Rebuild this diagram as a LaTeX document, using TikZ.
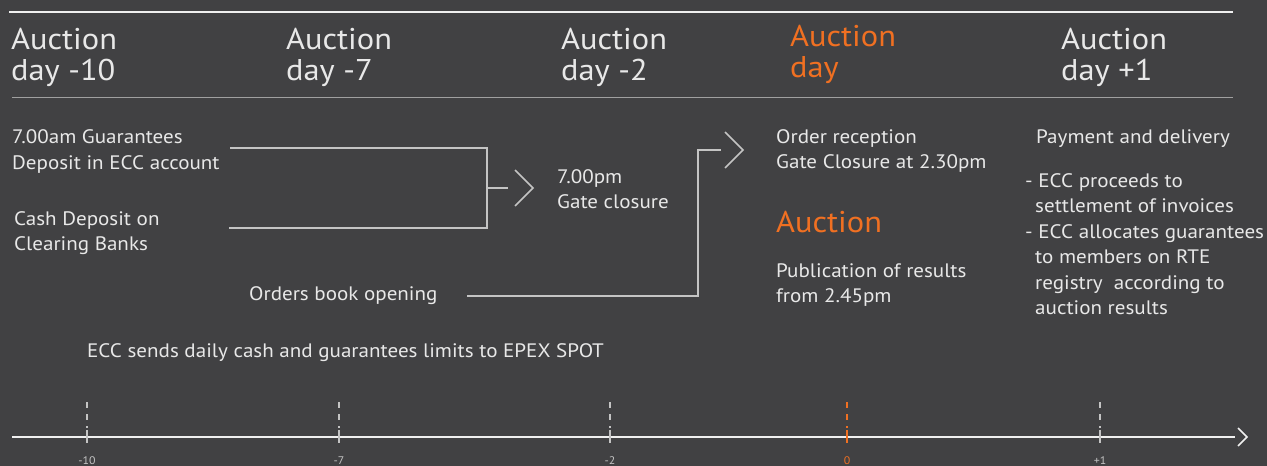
\documentclass[tikz,border=0pt]{standalone}
\usepackage{fontspec}
\setmainfont{PT Sans}[FakeStretch=1.08]
\definecolor{bg}{RGB}{65,65,67}
\definecolor{ink}{RGB}{232,232,232}
\definecolor{wire}{RGB}{196,196,196}
\definecolor{rule}{RGB}{160,160,160}
\definecolor{accent}{RGB}{240,112,34}
\definecolor{axislabel}{RGB}{168,168,168}
\tikzset{
  head/.style={anchor=base west, inner sep=0pt, text=ink, font=\fontsize{30}{34}\selectfont},
  body/.style={anchor=base west, inner sep=0pt, text=ink, font=\fontsize{19.5}{23}\selectfont},
  link/.style={draw=wire, line width=2pt},
  chev/.style={draw=wire, line width=1.6pt, line cap=butt, line join=miter},
  tickmark/.style={draw=wire, line width=1.6pt},
  tickdash/.style={draw=wire, line width=1.6pt, dash pattern=on 6pt off 6pt},
  ticklabel/.style={anchor=base, inner sep=0pt, text=axislabel, font=\fontsize{11}{13}\selectfont},
}
\begin{document}
\begin{tikzpicture}[x=1pt,y=-1pt]
  % canvas
  \fill[bg] (0,0) rectangle (1267,466);
  \useasboundingbox (0,0) rectangle (1267,466);
  \clip (0,0) rectangle (1267,466);

  % header rules
  \draw[white!92!bg, line width=2.2pt] (9,12) -- (1233,12);
  \draw[rule, line width=1pt] (12,97) -- (1233,97);

  % day headings
  \node[head] (h1a) at (11,49) {Auction};
  \node[head] (h1b) at (11,80) {day -10};
  \node[head] (h2a) at (286,49) {Auction};
  \node[head] (h2b) at (286,80) {day -7};
  \node[head] (h3a) at (561,49) {Auction};
  \node[head] (h3b) at (561,80) {day -2};
  \node[head, text=accent] (h4a) at (790,46) {Auction};
  \node[head, text=accent] (h4b) at (790,77) {day};
  \node[head] (h5a) at (1061,49) {Auction};
  \node[head] (h5b) at (1061,80) {day +1};

  % day -10 column
  \node[body] (g1) at (12,143) {7.00am Guarantees};
  \node[body] (g2) at (12,169) {Deposit in ECC account};
  \node[body] (c1) at (14,225) {Cash Deposit on};
  \node[body] (c2) at (14,250) {Clearing Banks};
  \node[body] (ob) at (249,300) {Orders book opening};

  % day -2 column
  \node[body] (p1) at (557,183) {7.00pm};
  \node[body] (p2) at (557,208) {Gate closure};

  % auction day column
  \node[body] (r1) at (776,143) {Order reception};
  \node[body] (r2) at (776,168) {Gate Closure at 2.30pm};
  \node[head, text=accent] (au) at (776,232) {Auction};
  \node[body] (u1) at (776,277) {Publication of results};
  \node[body] (u2) at (776,302) {from 2.45pm};

  % day +1 column
  \node[body] (d0) at (1036,143) {Payment and delivery};
  \node[body] (d1) at (1025,187) {- ECC proceeds to};
  \node[body] (d2) at (1035,212.5) {settlement of invoices};
  \node[body] (d3) at (1025,238) {- ECC allocates guarantees};
  \node[body] (d4) at (1035,263.5) {to members on RTE};
  \node[body] (d5) at (1035,289) {registry\ \ according to};
  \node[body] (d6) at (1035,314.5) {auction results};

  \node[body] (lim) at (87,357) {ECC sends daily cash and guarantees limits to EPEX SPOT};

  % merge bracket into gate closure
  \coordinate (gA) at (230,148);
  \coordinate (gB) at (487,148);
  \coordinate (cA) at (229,228);
  \coordinate (cB) at (487,228);
  \coordinate (mA) at (487,188);
  \coordinate (mB) at (508,188);
  \draw[link] (gA) -- (gB) -- (cB) -- (cA);
  \draw[link] (mA) -- (mB);
  \draw[chev] (515,170) -- (533,188) -- (515,206);

  % orders book into order reception
  \coordinate (oA) at (467,296);
  \coordinate (oB) at (698,150);
  \coordinate (oC) at (721,150);
  \draw[link] (oA) -| (oB) -- (oC);
  \draw[chev] (725,132) -- (743,150) -- (725,168);

  % time axis
  \coordinate (ax0) at (12,437);
  \coordinate (ax1) at (1235,437);
  \draw[white!92!bg, line width=2pt] (ax0) -- (ax1);
  \draw[white!92!bg, line width=1.6pt] (1238,428) -- (1247,437) -- (1238,446);

  \foreach \x/\lab/\col in {87/-10/wire, 339/-7/wire, 610/-2/wire, 847/0/accent, 1100/+1/wire}{
    \draw[tickdash, draw=\col] (\x,402) -- (\x,428);
    \draw[tickmark, draw=\col] (\x,430) -- (\x,443);
    \node[ticklabel, text=\ifx\col\wire axislabel\else\col\fi] at (\x,464.5) {\lab};
  }
\end{tikzpicture}
\end{document}
